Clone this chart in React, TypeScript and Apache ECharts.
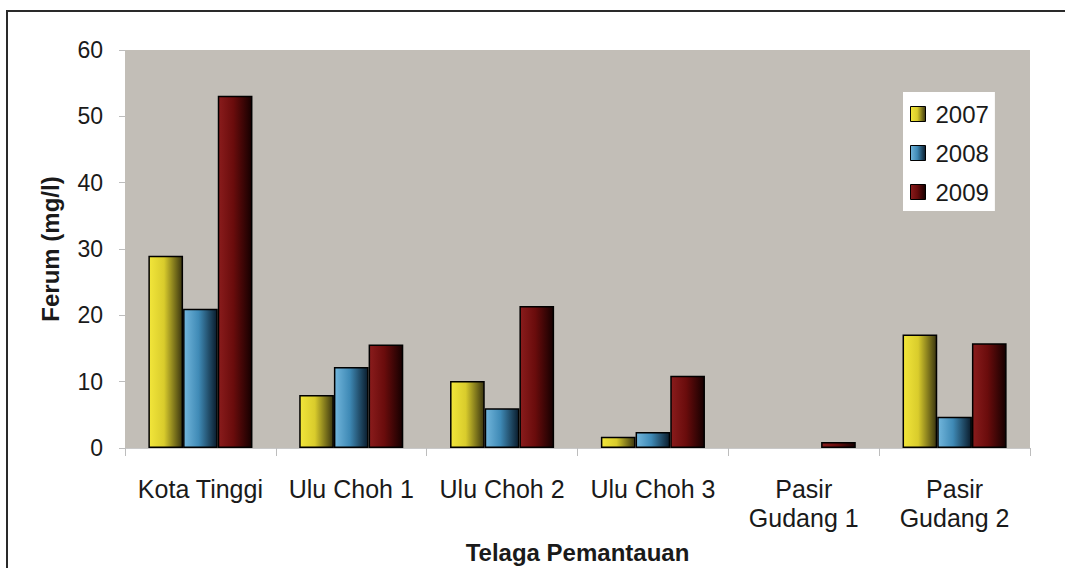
import React, { useEffect, useRef } from "react";
import * as echarts from "echarts";

const categories = ["Kota Tinggi", "Ulu Choh 1", "Ulu Choh 2", "Ulu Choh 3", "Pasir\nGudang 1", "Pasir\nGudang 2"];
const seriesNames = ["2007", "2008", "2009"];
const values2007 = [29, 8, 10.1, 1.7, 0, 17.1];
const values2008 = [21, 12.2, 6, 2.4, 0, 4.7];
const values2009 = [53.1, 15.6, 21.4, 10.9, 0.9, 15.8];
const yTicks = { min: 0, max: 60, interval: 10 };

const FONT = "'Liberation Sans', Arial, sans-serif";

function grad(c0: string, c1: string, c2: string) {
  return new echarts.graphic.LinearGradient(0, 0, 1, 0, [
    { offset: 0, color: c0 },
    { offset: 0.45, color: c1 },
    { offset: 1, color: c2 },
  ]);
}

export default function App() {
  const ref = useRef<HTMLDivElement>(null);
  useEffect(() => {
    if (!ref.current) return;
    const chart = echarts.init(ref.current, undefined, { renderer: "svg" });
    const colors = [
      grad("#f2e63a", "#d9cc2c", "#3a3510"),
      grad("#72b6dc", "#3f8ab6", "#0a1c2c"),
      grad("#8a1c1c", "#6a0c0c", "#150000"),
    ];
    const datas = [values2007, values2008, values2009];
    chart.setOption({
      animation: false,
      backgroundColor: "#ffffff",
      textStyle: { fontFamily: FONT },
      graphic: [
        {
          type: "rect",
          shape: { x: 7, y: 11, width: 1200, height: 700 },
          style: { fill: "none", stroke: "#2a2a2a", lineWidth: 2 },
          silent: true,
        },
      ],
      grid: {
        left: 125,
        top: 50,
        right: 35,
        bottom: 120,
        show: true,
        backgroundColor: "#c2beb7",
        borderWidth: 0,
        outerBoundsMode: "none",
        containLabel: false,
      },
      legend: {
        orient: "vertical",
        left: 903,
        top: 92,
        backgroundColor: "#ffffff",
        padding: [10, 6, 7, 7],
        itemWidth: 15,
        itemHeight: 15,
        itemGap: 15,
        icon: "rect",
        data: seriesNames,
        textStyle: {
          fontFamily: FONT,
          fontSize: 24,
          color: "#1a1a1a",
          lineHeight: 24,
          padding: [0, 0, 0, 5],
        },
        itemStyle: { borderColor: "#000", borderWidth: 1 },
      },
      xAxis: {
        type: "category",
        data: categories,
        axisLine: { show: true, lineStyle: { color: "#c8c8c8", width: 1 } },
        axisTick: { show: true, length: 8, lineStyle: { color: "#bdbdbd" } },
        axisLabel: {
          interval: 0,
          fontFamily: FONT,
          fontSize: 25,
          color: "#1a1a1a",
          lineHeight: 29,
          margin: 26,
        },
        name: "Telaga Pemantauan",
        nameLocation: "middle",
        nameGap: 92,
        nameTextStyle: { fontFamily: FONT, fontSize: 24, fontWeight: "bold", color: "#1a1a1a", lineHeight: 24 },
      },
      yAxis: {
        type: "value",
        min: yTicks.min,
        max: yTicks.max,
        interval: yTicks.interval,
        splitLine: { show: false },
        axisLine: { show: false },
        axisTick: { show: true, length: 6, lineStyle: { color: "#bdbdbd" } },
        axisLabel: { fontFamily: FONT, fontSize: 23, color: "#1a1a1a", margin: 22, padding: [8, 0, 0, 0] },
        name: "Ferum (mg/l)",
        nameLocation: "middle",
        nameGap: 63,
        nameTextStyle: { fontFamily: FONT, fontSize: 24, fontWeight: "bold", color: "#1a1a1a" },
      },
      series: seriesNames.map((n, i) => ({
        name: n,
        type: "bar",
        data: datas[i].map((v) => (v === 0 ? { value: v, itemStyle: { borderWidth: 0 } } : v)),
        barGap: "0%",
        barCategoryGap: "31%",
        itemStyle: { color: colors[i], borderColor: "#000", borderWidth: 1.5 },
      })),
    });
    return () => chart.dispose();
  }, []);
  return <div ref={ref} style={{ position: "fixed", left: 0, top: 0, width: 1065, height: 568 }} />;
}
